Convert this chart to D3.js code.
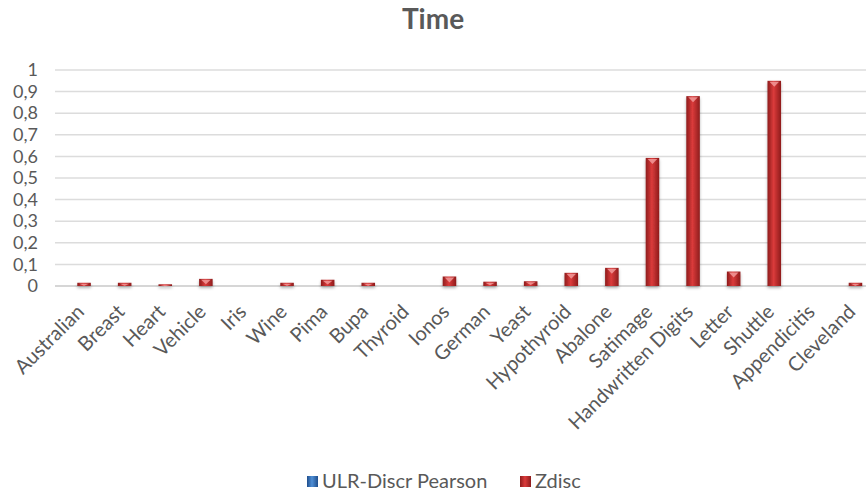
<!DOCTYPE html>
<html>
<head>
<meta charset="utf-8">
<script src="https://cdn.jsdelivr.net/npm/d3@7"></script>
<style>
  body { margin: 0; background: #fff; }
  svg { display: block; font-family: Lato, 'Open Sans', sans-serif; }
</style>
</head>
<body>
<div id="chart"></div>
<script>
// data
const datasets = ['Australian', 'Breast', 'Heart', 'Vehicle', 'Iris', 'Wine', 'Pima', 'Bupa', 'Thyroid', 'Ionos',
  'German', 'Yeast', 'Hypothyroid', 'Abalone', 'Satimage', 'Handwritten Digits', 'Letter', 'Shuttle', 'Appendicitis', 'Cleveland']
const pearson = [0, 0, 0, 0, 0, 0, 0, 0, 0, 0, 0, 0, 0, 0, 0, 0, 0, 0, 0, 0]
const zdisc = [0.015, 0.015, 0.008, 0.033, 0, 0.015, 0.029, 0.015, 0, 0.044,
  0.02, 0.022, 0.061, 0.084, 0.593, 0.879, 0.067, 0.95, 0, 0.015]
const seriesNames = ['ULR-Discr Pearson', 'Zdisc']
const yTicks = [0, 0.1, 0.2, 0.3, 0.4, 0.5, 0.6, 0.7, 0.8, 0.9, 1]

const width = 866, height = 497
const margin = { top: 70, right: -3, bottom: 211, left: 57 }

const svg = d3.select('#chart').append('svg')
  .attr('width', width).attr('height', height)

const defs = svg.append('defs')
const grads = [
  { id: 'g-blue', dark: '#1f4e8c', mid: '#4f8fd6' },
  { id: 'g-red', dark: '#8e1c1c', mid: '#db3b3b' }
]
grads.forEach(g => {
  const lg = defs.append('linearGradient').attr('id', g.id).attr('x1', 0).attr('x2', 1)
  lg.append('stop').attr('offset', '0%').attr('stop-color', g.dark)
  lg.append('stop').attr('offset', '45%').attr('stop-color', g.mid)
  lg.append('stop').attr('offset', '100%').attr('stop-color', g.dark)
})
const shadow = defs.append('filter').attr('id', 'shadow')
  .attr('x', '-50%').attr('y', '-50%').attr('width', '200%').attr('height', '200%')
shadow.append('feDropShadow').attr('dx', 0).attr('dy', 2).attr('stdDeviation', 1.5)
  .attr('flood-color', '#000').attr('flood-opacity', 0.3)

const x = d3.scaleBand()
  .domain(datasets)
  .range([margin.left, width - margin.right])
  .paddingInner(0.333).paddingOuter(0.1665)

const x1 = d3.scaleBand().domain(seriesNames).range([0, x.bandwidth()])

const y = d3.scaleLinear().domain([0, 1]).range([height - margin.bottom, margin.top])

// title
svg.append('text')
  .attr('x', width / 2).attr('y', 29)
  .attr('text-anchor', 'middle')
  .attr('font-size', 28).attr('font-weight', 'bold')
  .attr('fill', '#595959')
  .text('Time')

// grid
svg.append('g')
  .selectAll('line').data(yTicks).join('line')
  .attr('x1', margin.left - 2).attr('x2', width)
  .attr('y1', d => y(d)).attr('y2', d => y(d))
  .attr('stroke', d => d === 0 ? '#c8c8c8' : '#dcdcdc')
  .attr('stroke-width', 1.5)

// y axis labels
const yAxis = d3.axisLeft(y).tickValues(yTicks).tickSize(0).tickPadding(0)
  .tickFormat(d => d3.format('.1~f')(d).replace('.', ','))
svg.append('g')
  .attr('transform', `translate(${38},0)`)
  .call(yAxis)
  .call(g => g.select('.domain').remove())
  .call(g => g.selectAll('text')
    .attr('font-size', 18).attr('fill', '#595959')
    .attr('font-family', 'Lato, sans-serif'))

// x labels
const xAxis = d3.axisBottom(x).tickSize(0).tickPadding(0)
svg.append('g')
  .attr('transform', `translate(0,${y(0)})`)
  .call(xAxis)
  .call(g => g.select('.domain').remove())
  .call(g => g.selectAll('text')
    .attr('font-size', 20).attr('fill', '#595959')
    .attr('font-family', 'Lato, sans-serif')
    .attr('text-anchor', 'end')
    .attr('dy', 0)
    .attr('transform', 'translate(8,27) rotate(-45)'))

// bars
const series = [pearson, zdisc]
series.forEach((vals, si) => {
  const g = svg.append('g').attr('filter', 'url(#shadow)')
  const fill = si === 0 ? 'url(#g-blue)' : 'url(#g-red)'
  const bars = g.selectAll('g').data(vals.map((v, i) => ({ v, name: datasets[i] })).filter(d => d.v > 0)).join('g')
  bars.append('rect')
    .attr('x', d => x(d.name) + x1(seriesNames[si]))
    .attr('y', d => y(d.v))
    .attr('width', x1.bandwidth())
    .attr('height', d => y(0) - y(d.v))
    .attr('fill', fill)
  // bevel highlight at top
  bars.append('path')
    .attr('d', d => {
      const x0 = x(d.name) + x1(seriesNames[si]), w = x1.bandwidth(), yt = y(d.v)
      const h = Math.min(5, (y(0) - yt) * 0.6)
      return `M${x0 + 2},${yt + 1}L${x0 + w - 2},${yt + 1}L${x0 + w / 2},${yt + 1 + h}Z`
    })
    .attr('fill', si === 0 ? '#9cc4ef' : '#f29a9a')
    .attr('opacity', 0.85)
})

// legend
const legend = svg.append('g').attr('transform', `translate(0,${481})`)
const legendX = [307, 520]
seriesNames.forEach((n, i) => {
  legend.append('rect')
    .attr('x', legendX[i]).attr('y', -5).attr('width', 11).attr('height', 11)
    .attr('fill', i === 0 ? 'url(#g-blue)' : 'url(#g-red)')
  legend.append('text')
    .attr('x', legendX[i] + 15).attr('y', 7)
    .attr('font-size', 20).attr('fill', '#595959')
    .text(n)
})
</script>
</body>
</html>
